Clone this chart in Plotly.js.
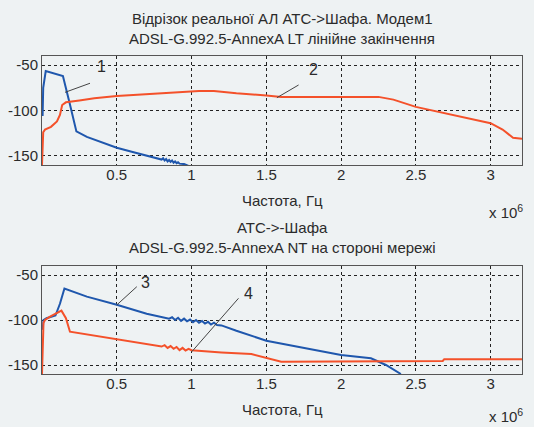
<!DOCTYPE html>
<html>
<head>
<meta charset="utf-8">
<script src="https://cdn.plot.ly/plotly-3.0.1.min.js"></script>
<style>html,body{margin:0;padding:0;background:#eef2f3;}</style>
</head>
<body>
<div id="chart" style="width:534px;height:427px;"></div>
<script>
// ---- Top chart (LT) ----
const f1 = [0.004e6,0.008e6,0.025e6,0.08e6,0.14e6,0.185e6,0.23e6,0.3e6,0.4e6,0.5e6,0.6e6,0.7e6,0.76e6,0.8e6,0.81e6,0.82e6,0.83e6,0.84e6,0.85e6,0.86e6,0.87e6,0.88e6,0.89e6,0.9e6,0.91e6,0.92e6,0.95e6,0.98e6];
const v1 = [-106,-75,-56.5,-59,-62,-92,-123,-129,-135,-141,-145.5,-150,-152,-154,-152.5,-155,-153.5,-156,-154.5,-156.5,-155,-157.5,-156,-158,-157,-158.5,-159,-161];
const f2 = [0,0.004e6,0.008e6,0.02e6,0.06e6,0.1e6,0.12e6,0.135e6,0.16e6,0.25e6,0.35e6,0.5e6,0.7e6,0.9e6,1.05e6,1.15e6,1.3e6,1.5e6,1.6e6,2.25e6,2.35e6,2.5e6,2.75e6,3.0e6,3.08e6,3.15e6,3.21e6];
const v2 = [-160,-145,-124,-121,-118,-112,-105,-94,-91,-89,-86.5,-84,-82,-79.5,-78.5,-78.5,-81,-83.5,-85,-85,-88,-96,-105,-114,-121,-130,-131];
// ---- Bottom chart (NT) ----
const f3 = [0.004e6,0.01e6,0.03e6,0.09e6,0.12e6,0.15e6,0.3e6,0.5e6,0.7e6,0.85e6,0.87e6,0.89e6,0.91e6,0.93e6,0.95e6,0.97e6,0.99e6,1.01e6,1.03e6,1.05e6,1.07e6,1.09e6,1.11e6,1.13e6,1.15e6,1.17e6,1.2e6,1.3e6,1.5e6,1.75e6,2.0e6,2.2e6,2.3e6,2.4e6];
const v3 = [-111,-100,-98,-95,-82,-65,-74,-83,-93,-98.5,-97,-100,-97.5,-101,-98.5,-101.5,-99.5,-102.5,-100,-103,-101,-104,-102,-105,-103,-105.5,-106,-112,-123,-131,-139,-142.5,-150,-160];
const f4 = [0,0.005e6,0.01e6,0.02e6,0.054e6,0.13e6,0.16e6,0.187e6,0.3e6,0.5e6,0.7e6,0.8e6,0.82e6,0.84e6,0.86e6,0.88e6,0.9e6,0.92e6,0.94e6,0.96e6,0.98e6,1.0e6,1.2e6,1.4e6,1.6e6,2.0e6,2.01e6,2.68e6,2.69e6,3.21e6];
const v4 = [-160,-130,-103,-100,-96.3,-89.6,-98,-113,-116,-121.4,-127,-129.5,-128,-131,-129,-132,-130,-133.5,-131,-134,-132,-133.5,-136,-137.8,-146.3,-146.3,-145.5,-145.5,-143.5,-143.5];

const xTickVals = [0.5e6,1e6,1.5e6,2e6,2.5e6,3e6];
const xTickText = ['0.5','1','1.5','2','2.5','3'];
const yTickVals = [-50,-100,-150];
const yTickText = ['-50','-100','-150'];

const title1a = 'Відрізок реальної АЛ АТС->Шафа. Модем1';
const title1b = 'ADSL-G.992.5-AnnexA LT лінійне закінчення';
const title2a = 'АТС->-Шафа';
const title2b = 'ADSL-G.992.5-AnnexA NT на стороні мережі';
const xLabel = 'Частота, Гц';

const BLUE = '#1f57ad';
const RED = '#f4512a';
const TXT = '#2b2b2b';
const FONT = 'Liberation Sans, Arial, sans-serif';

const traces = [
  {x:f1, y:v1, xaxis:'x', yaxis:'y', mode:'lines', line:{color:BLUE, width:2}},
  {x:f2, y:v2, xaxis:'x', yaxis:'y', mode:'lines', line:{color:RED, width:2}},
  {x:f3, y:v3, xaxis:'x2', yaxis:'y2', mode:'lines', line:{color:BLUE, width:2}},
  {x:f4, y:v4, xaxis:'x2', yaxis:'y2', mode:'lines', line:{color:RED, width:2}}
];

function xa(anchor){
  return {anchor:anchor, range:[0,3.21e6], tickvals:xTickVals, ticktext:xTickText,
    showgrid:true, gridcolor:'#222', griddash:'3px,3px', gridwidth:1,
    showline:true, mirror:true, linecolor:'#555', linewidth:1, zeroline:false,
    ticks:'', ticklabelstandoff:-4, tickfont:{size:15, color:TXT, family:FONT}, fixedrange:true};
}
function ya(anchor, domain){
  return {anchor:anchor, domain:domain, range:[-160,-40], tickvals:yTickVals, ticktext:yTickText,
    showgrid:true, gridcolor:'#222', griddash:'3px,3px', gridwidth:1,
    showline:true, mirror:true, linecolor:'#555', linewidth:1, zeroline:false,
    ticks:'', tickfont:{size:15, color:TXT, family:FONT}, fixedrange:true};
}

const ann = (text, x, y, xref, yref, size) => ({text:text, x:x, y:y, xref:xref, yref:yref,
  showarrow:false, font:{size:size, color:TXT, family:FONT}});

const annotations = [
  ann(title1a, 282, 18, 'paper', 'paper', 15),
  ann(title1b, 282, 38, 'paper', 'paper', 15),
  ann(xLabel, 282, 200, 'paper', 'paper', 15),
  ann('x 10<sup>6</sup>', 506, 211, 'paper', 'paper', 15),
  ann(title2a, 282, 227, 'paper', 'paper', 15),
  ann(title2b, 282, 247, 'paper', 'paper', 15),
  ann(xLabel, 282, 409, 'paper', 'paper', 15),
  ann('x 10<sup>6</sup>', 506, 415, 'paper', 'paper', 15),
  ann('1', 0.40e6, -51.8, 'x', 'y', 16),
  ann('2', 1.814e6, -55.4, 'x', 'y', 16),
  ann('3', 0.689e6, -58.6, 'x2', 'y2', 16),
  ann('4', 1.381e6, -70.3, 'x2', 'y2', 16)
];
const W=534, H=427, ML=42, MR=12, MT=56, MB=53;
annotations.forEach(a=>{
  if(a.xref==='paper'){ a.x = (a.x-ML)/(W-ML-MR); a.y = 1-(a.y-MT)/(H-MT-MB); a.yanchor='middle'; a.xanchor='center'; }
});

const lineStyle = {color:'#444', width:1};
const shapes = [
  {type:'line', xref:'x', yref:'y', x0:0.154e6, y0:-80, x1:0.321e6, y1:-70, line:lineStyle},
  {type:'line', xref:'x', yref:'y', x0:1.571e6, y0:-85.9, x1:1.716e6, y1:-71.9, line:lineStyle},
  {type:'line', xref:'x2', yref:'y2', x0:0.5e6, y0:-83.3, x1:0.634e6, y1:-63, line:lineStyle},
  {type:'line', xref:'x2', yref:'y2', x0:1.002e6, y0:-135.2, x1:1.314e6, y1:-75.9, line:lineStyle}
];

const layout = {
  width:W, height:H,
  margin:{l:ML, r:MR, t:MT, b:MB},
  paper_bgcolor:'#eef2f3', plot_bgcolor:'#eef2f3',
  showlegend:false,
  xaxis: xa('y'), yaxis: ya('x', [1-109/318, 1]),
  xaxis2: xa('y2'), yaxis2: ya('x2', [0, 1-210/318]),
  annotations: annotations,
  shapes: shapes,
  font:{family:FONT, color:TXT}
};

Plotly.newPlot('chart', traces, layout, {displayModeBar:false, staticPlot:true});
</script>
</body>
</html>
